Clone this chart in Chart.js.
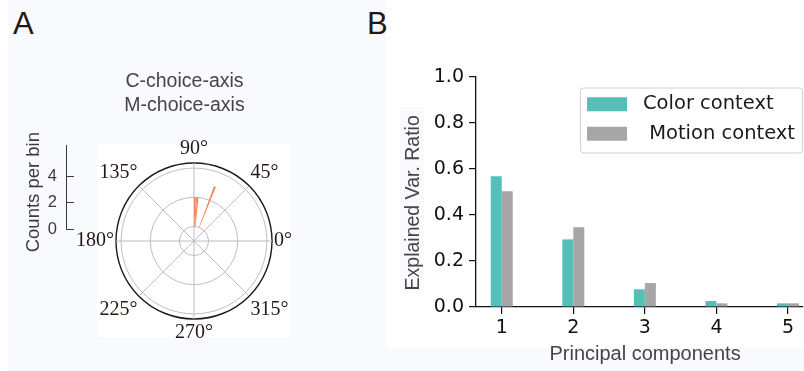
<!DOCTYPE html>
<html>
<head>
<meta charset="utf-8">
<title>Choice-axis angles and explained variance</title>
<script src="https://cdn.jsdelivr.net/npm/chart.js@4.4.1/dist/chart.umd.min.js"></script>
<style>
  html, body { margin: 0; padding: 0; background: #fff; }
  body { width: 804px; height: 371px; position: relative; overflow: hidden; }
  canvas, .tint, .panel-label { position: absolute; }
  .tint { background: #f8fafd; }
  .panel-label { font: 31px 'Liberation Sans', Arial, sans-serif; line-height: 31px; color: #231815; }
</style>
</head>
<body>
<div class="tint" style="left:8px;top:0;width:378px;height:371px"></div>
<div class="tint" style="left:97px;top:144px;width:193px;height:193px;background:#fff"></div>
<div class="tint" style="left:386px;top:348px;width:418px;height:23px"></div>
<div class="tint" style="left:400px;top:107px;width:24px;height:186px"></div>
<div class="panel-label" style="left:13px;top:8px">A</div>
<div class="panel-label" style="left:367px;top:8px">B</div>
<canvas id="countAxis" width="54" height="160" style="left:20px;top:100px"></canvas>
<canvas id="polarChart" width="266" height="299" style="left:60px;top:61px"></canvas>
<canvas id="pcaChart" width="404" height="311" style="left:400px;top:60px"></canvas>
<script>
// ---- Panel A: polar histogram of choice-axis angles ----
const angleTickLabels = ['90°', '45°', '0°', '315°', '270°', '225°', '180°', '135°'];
const histBinDeg = 2;
const histBinCenters = [89, 87, 85, 69];   // degrees, 0 = east, counter-clockwise
const histCounts = [2, 2, 2, 3];
const polarGridTicks = [0, 2, 4];
const polarMin = -1;                        // bars start off the centre
const polarMax = 4.35;
const countTicks = [0, 2, 4];
const countMax = 6.4;

// ---- Panel B: explained variance per principal component ----
const pcLabels = [1, 2, 3, 4, 5];
const colorRatio = [0.568, 0.294, 0.077, 0.026, 0.016];
const motionRatio = [0.503, 0.347, 0.104, 0.016, 0.016];

const sansFont = "'Liberation Sans', Arial, sans-serif";
const serifFont = "'Liberation Serif', 'Times New Roman', serif";
const plotFont = "'DejaVu Sans', sans-serif";
const labelGray = '#4a4345';

// chart.js polar area starts at 12 o'clock and runs clockwise
const binCounts = new Array(360 / histBinDeg).fill(0);
histBinCenters.forEach((deg, i) => {
    const cw = ((90 - deg) % 360 + 360) % 360;
    binCounts[Math.floor(cw / histBinDeg)] = histCounts[i];
});

// lift the wedges off the centre, like bottom= in a polar bar plot
const barBottom = {
    id: 'barBottom',
    afterDatasetUpdate(chart, args) {
        const base = chart.scales.r.getDistanceFromCenterForValue(0);
        args.meta.data.forEach(arc => { arc.innerRadius = base; });
    }
};

new Chart(document.getElementById('polarChart'), {
    type: 'polarArea',
    data: {
        labels: angleTickLabels,
        datasets: [{
            data: binCounts,
            backgroundColor: ctx => ctx.raw > 0 ? '#f6845b' : 'rgba(0,0,0,0)',
            borderWidth: 0
        }]
    },
    options: {
        responsive: false,
        animation: false,
        events: [],
        layout: { padding: { left: 6, right: 23, top: 0, bottom: 0 } },
        plugins: {
            legend: { display: false },
            tooltip: { enabled: false },
            title: {
                display: true,
                text: ['C-choice-axis', 'M-choice-axis'],
                color: labelGray,
                font: { family: sansFont, size: 19.5, weight: 'normal', lineHeight: '24px' },
                padding: { top: 9, bottom: 4 }
            }
        },
        scales: {
            r: {
                min: polarMin,
                max: polarMax,
                beginAtZero: false,
                startAngle: 0,
                afterBuildTicks: scale => {
                    scale.ticks = [polarMin, ...polarGridTicks, polarMax].map(v => ({ value: v }));
                },
                ticks: { display: false },
                grid: {
                    circular: true,
                    color: ctx => ctx.tick && ctx.tick.value >= polarMax ? '#1a1a1a' : '#bdbdbd',
                    lineWidth: ctx => ctx.tick && ctx.tick.value >= polarMax ? 1.4 : 1
                },
                angleLines: { display: true, color: '#bdbdbd', lineWidth: 1 },
                pointLabels: {
                    display: true,
                    color: '#231815',
                    font: { family: serifFont, size: 20 },
                    padding: 2
                }
            }
        }
    },
    plugins: [barBottom]
});

// the little "Counts per bin" scale bar next to the polar plot
new Chart(document.getElementById('countAxis'), {
    type: 'scatter',
    data: { datasets: [] },
    options: {
        responsive: false,
        animation: false,
        events: [],
        layout: { padding: { top: 45, bottom: 31, left: 0, right: 0 } },
        plugins: { legend: { display: false }, tooltip: { enabled: false } },
        scales: {
            x: { display: false },
            y: {
                min: 0,
                max: countMax,
                afterBuildTicks: scale => { scale.ticks = countTicks.map(v => ({ value: v })); },
                afterFit: scale => { scale.width = 46; },
                ticks: { color: '#3e3a39', font: { family: sansFont, size: 16.5 }, padding: 9 },
                grid: { drawTicks: false, color: '#3e3a39', lineWidth: 1 },
                border: { color: '#3e3a39', width: 1 },
                title: {
                    display: true,
                    text: 'Counts per bin  ',
                    color: '#3e3a39',
                    font: { family: sansFont, size: 18.5 },
                    padding: { top: 3, bottom: 0 }
                }
            }
        }
    }
});

// matplotlib-style legend frame in the upper right of the plot area
const legendFrame = {
    id: 'legendFrame',
    beforeDraw(chart) {
        const lg = chart.legend;
        const area = chart.chartArea;
        const pad = lg.options.labels.padding;
        const col = lg.columnSizes[0];
        const w = col.width + 15;
        const h = col.height - pad + 16;
        const x = area.right - w;
        const y = area.top + 10.5;
        lg.left = x + 7 - pad;
        lg.top = y + 7 - pad;
        lg.right = lg.left + lg.width;
        lg.bottom = lg.top + 400;

        const ctx = chart.ctx;
        ctx.save();
        ctx.beginPath();
        ctx.roundRect(x + 0.5, y + 0.5, w - 1, h, 3);
        ctx.fillStyle = 'rgba(255,255,255,0.85)';
        ctx.fill();
        ctx.strokeStyle = '#d0d0d0';
        ctx.lineWidth = 1;
        ctx.stroke();
        ctx.restore();
    }
};

const tickFont = { family: plotFont, size: 19 };

new Chart(document.getElementById('pcaChart'), {
    type: 'bar',
    data: {
        datasets: [
            {
                label: ' Color context',
                data: pcLabels.map((pc, i) => ({ x: pc, y: colorRatio[i] })),
                backgroundColor: '#57bfb9',
                borderWidth: 0,
                categoryPercentage: 0.3075,
                barPercentage: 1
            },
            {
                label: '  Motion context',
                data: pcLabels.map((pc, i) => ({ x: pc, y: motionRatio[i] })),
                backgroundColor: '#a6a6a6',
                borderWidth: 0,
                categoryPercentage: 0.3075,
                barPercentage: 1
            }
        ]
    },
    options: {
        responsive: false,
        animation: false,
        events: [],
        layout: { padding: { top: 17, right: 1, bottom: 0, left: 0 } },
        plugins: {
            tooltip: { enabled: false },
            legend: {
                position: 'chartArea',
                align: 'start',
                labels: {
                    color: '#1a1a1a',
                    font: { family: plotFont, size: 19.5 },
                    boxWidth: 40,
                    boxHeight: 14,
                    padding: 10
                }
            }
        },
        scales: {
            x: {
                type: 'linear',
                min: 0.64,
                max: 5.21,
                offset: false,
                afterFit: scale => { scale.height = 64; },
                ticks: { stepSize: 1, includeBounds: false, color: '#111', font: tickFont, padding: 3 },
                grid: { offset: false, drawOnChartArea: false, tickLength: 7, color: '#111', lineWidth: 1.2 },
                border: { color: '#111', width: 1.3 },
                title: {
                    display: true,
                    text: '  Principal components',
                    color: labelGray,
                    font: { family: sansFont, size: 20 },
                    padding: { top: 0, bottom: 5 }
                }
            },
            y: {
                min: 0,
                max: 1,
                afterFit: scale => { scale.width = 76; },
                ticks: { stepSize: 0.2, color: '#111', font: tickFont, padding: 5, callback: v => v.toFixed(1) },
                grid: { drawOnChartArea: false, tickLength: 7, color: '#111', lineWidth: 1.2 },
                border: { color: '#111', width: 1.3 },
                title: {
                    display: true,
                    text: 'Explained Var. Ratio    ',
                    color: labelGray,
                    font: { family: sansFont, size: 19.5 },
                    padding: { top: 2, bottom: 0 }
                }
            }
        }
    },
    plugins: [legendFrame]
});
</script>
</body>
</html>
